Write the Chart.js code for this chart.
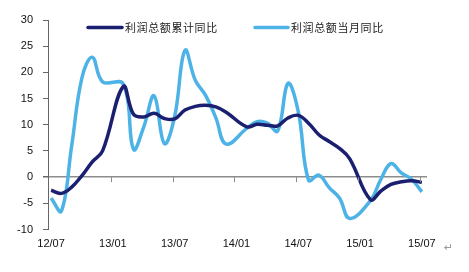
<!DOCTYPE html>
<html>
<head>
<meta charset="utf-8">
<script src="https://cdn.jsdelivr.net/npm/chart.js@4.4.0/dist/chart.umd.min.js"></script>
<style>
html,body{margin:0;padding:0;background:#fff;}
canvas{display:block;}
</style>
</head>
<body>
<canvas id="myChart" width="469" height="272"></canvas>
<script>
// months 12/07 .. 15/07, January figures are not published separately (null)
const months = ['12/07','12/08','12/09','12/10','12/11','12/12',
    '13/01','13/02','13/03','13/04','13/05','13/06','13/07','13/08','13/09','13/10','13/11','13/12',
    '14/01','14/02','14/03','14/04','14/05','14/06','14/07','14/08','14/09','14/10','14/11','14/12',
    '15/01','15/02','15/03','15/04','15/05','15/06','15/07'];
const cumulative = [-2.5,-3.1,-1.9,0.3,2.9,5.0,
    null,17.3,12.0,11.5,12.2,11.2,11.1,12.8,13.5,13.7,13.4,12.4,
    null,9.6,10.1,9.9,9.8,11.3,11.8,10.3,8.1,6.8,5.5,3.5,
    null,-4.3,-2.7,-1.4,-0.9,-0.7,-1.0];
const monthly = [-4.0,-6.5,6.0,19.0,22.9,18.2,
    null,17.8,5.3,9.6,15.5,6.4,11.6,24.2,18.5,15.6,11.3,6.3,
    null,9.3,10.6,10.3,8.8,17.9,12.5,-0.6,0.4,-2.0,-4.0,-7.9,
    null,-4.5,-0.5,2.6,0.8,-0.4,-2.8];
const tickLabels = ['12/07','13/01','13/07','14/01','14/07','15/01','15/07'];
const seriesNames = ['利润总额累计同比','利润总额当月同比'];

const darkBlue = '#1b1f6f';
const lightBlue = '#4db3e6';
const fontFamily = '"Liberation Sans", Arial, sans-serif';

const toPoints = arr => arr.map((v,i) => ({x:i, y:v}));

// legend, zero line ticks, return mark
const extras = {
    id: 'extras',
    afterDraw(chart){
        const ctx = chart.ctx;
        const xs = chart.scales.x, ys = chart.scales.y;
        const y0 = ys.getPixelForValue(0);
        ctx.save();
        ctx.strokeStyle = '#8c8c8c';
        ctx.lineWidth = 1;
        tickLabels.slice(1).forEach(l => {
            const px = Math.round(xs.getPixelForValue(months.indexOf(l))) - 1.5;
            ctx.beginPath();
            ctx.moveTo(px, y0);
            ctx.lineTo(px, y0 + 5);
            ctx.stroke();
        });
        // legend
        const items = [
            {color: darkBlue, x1: 88, x2: 122, tx: 125, text: seriesNames[0]},
            {color: lightBlue, x1: 255, x2: 288, tx: 291, text: seriesNames[1]}
        ];
        ctx.lineWidth = 3.5;
        ctx.lineCap = 'round';
        ctx.font = '11px "Noto Sans CJK SC", sans-serif';
        if ('letterSpacing' in ctx) ctx.letterSpacing = '0.6px';
        ctx.textBaseline = 'middle';
        ctx.textAlign = 'left';
        ctx.fillStyle = '#222';
        items.forEach(it => {
            ctx.strokeStyle = it.color;
            ctx.beginPath();
            ctx.moveTo(it.x1, 27.5);
            ctx.lineTo(it.x2, 27.5);
            ctx.stroke();
            ctx.fillText(it.text, it.tx, 28);
        });
        if ('letterSpacing' in ctx) ctx.letterSpacing = '0px';
        ctx.fillStyle = '#999';
        ctx.font = '11px "DejaVu Sans", sans-serif';
        ctx.fillText('↵', 444, 248);
        ctx.restore();
    }
};

var ctx = document.getElementById('myChart').getContext('2d');
var chart = new Chart(ctx, {
    type: 'line',
    data: {
        datasets: [
            {
                label: seriesNames[0],
                data: toPoints(cumulative),
                borderColor: darkBlue,
                backgroundColor: 'rgba(0,0,0,0)',
                borderWidth: 3.5,
                tension: 0.4,
                pointRadius: 0,
                spanGaps: true
            },
            {
                label: seriesNames[1],
                data: toPoints(monthly),
                borderColor: lightBlue,
                backgroundColor: 'rgba(0,0,0,0)',
                borderWidth: 3.5,
                tension: 0.4,
                pointRadius: 0,
                spanGaps: true
            }
        ]
    },
    options: {
        responsive: false,
        animation: false,
        devicePixelRatio: 1,
        layout: {padding: {top: 20, right: 42, left: 0, bottom: 0}},
        plugins: {legend: {display: false}, tooltip: {enabled: false}},
        scales: {
            x: {
                type: 'linear',
                min: -0.3,
                max: 36.5,
                afterFit: s => { s.height = 42.5; },
                afterBuildTicks: s => { s.ticks = tickLabels.map(l => ({value: months.indexOf(l)})); },
                grid: {display: false, drawTicks: false},
                border: {display: false},
                ticks: {
                    padding: 8,
                    maxRotation: 0,
                    autoSkip: false,
                    color: '#111',
                    font: {family: fontFamily, size: 11},
                    callback: v => months[v]
                }
            },
            y: {
                min: -10,
                max: 30,
                afterFit: s => { s.width = 48; },
                ticks: {
                    stepSize: 5,
                    padding: 10,
                    color: '#111',
                    font: {family: fontFamily, size: 11}
                },
                grid: {
                    color: c => c.tick.value === 0 ? '#8c8c8c' : 'rgba(0,0,0,0)',
                    lineWidth: c => c.tick.value === 0 ? 1.5 : 1,
                    tickColor: '#666',
                    tickLength: 5,
                    drawTicks: true
                },
                border: {display: true, color: '#666', width: 1}
            }
        }
    },
    plugins: [extras]
});
</script>
</body>
</html>
